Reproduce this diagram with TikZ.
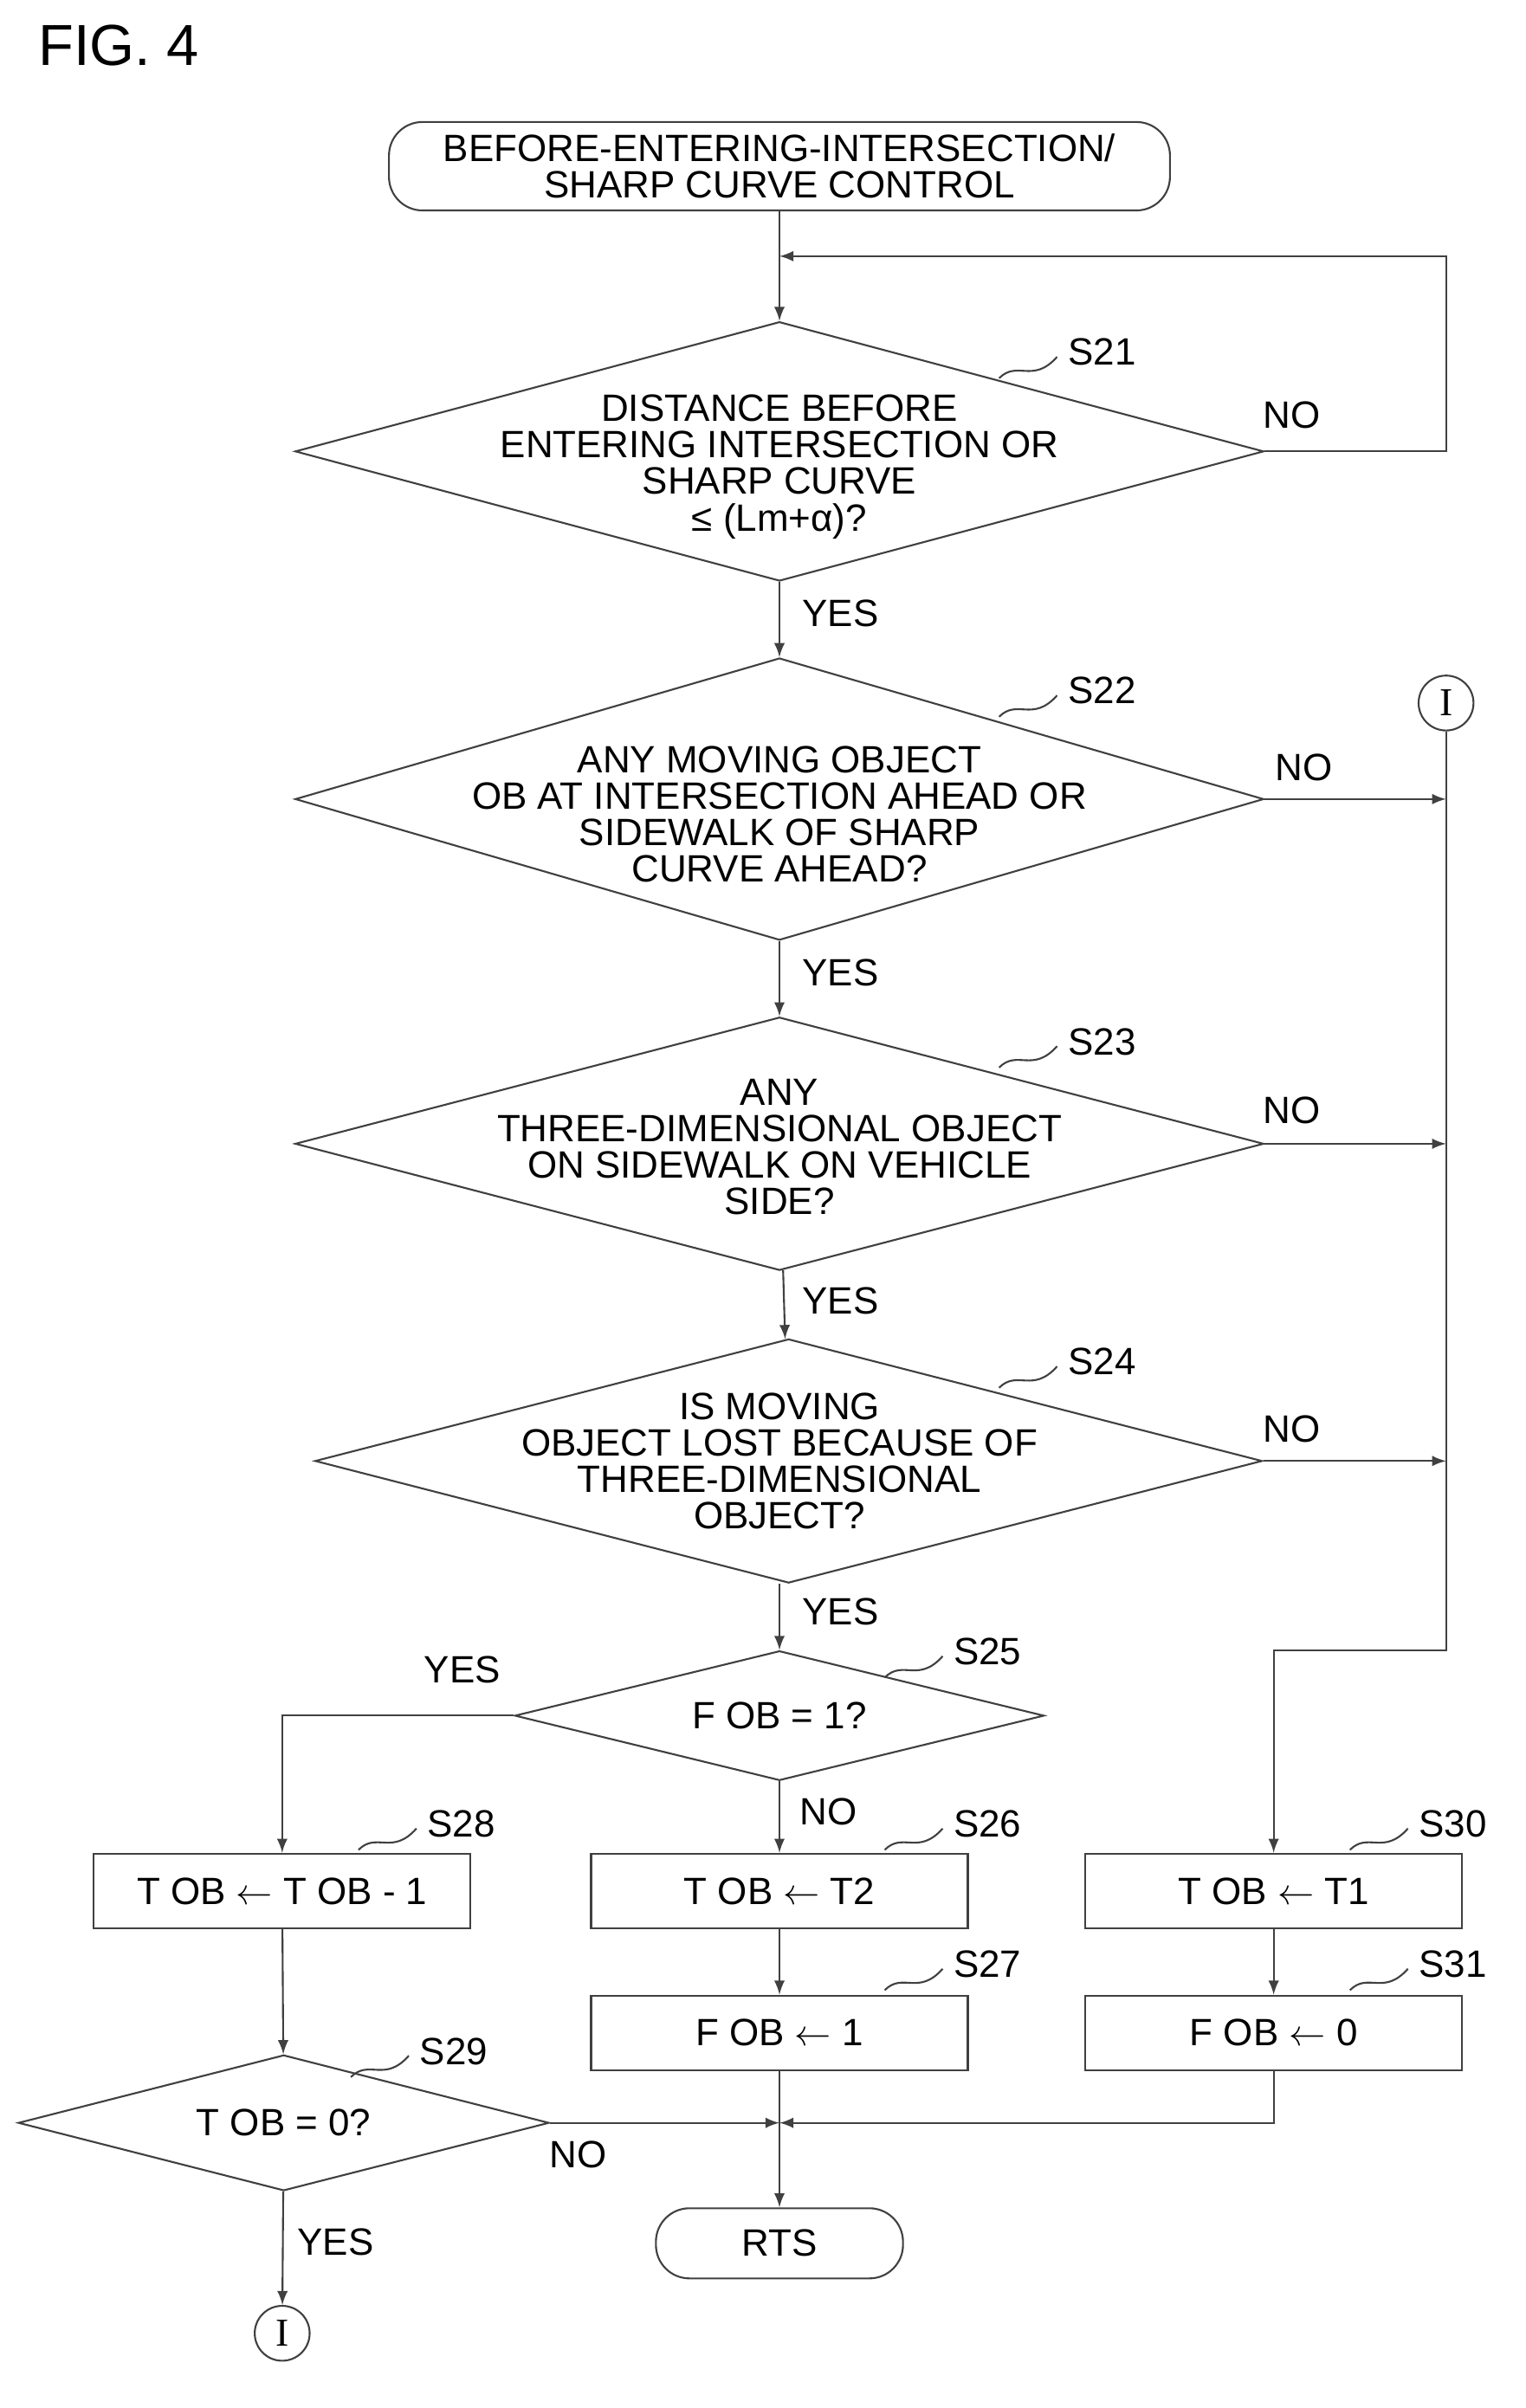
\documentclass[tikz,border=0pt]{standalone}
\usepackage{fontspec}
\setmainfont{Liberation Sans}
\newfontfamily\serifI{Liberation Serif}
\usetikzlibrary{shapes.geometric}
\usetikzlibrary{arrows}
\begin{document}
\begin{tikzpicture}[x=0.01761cm,y=-0.01761cm,
  font=\fontsize{12.5}{14}\selectfont,
  line width=0.6pt, draw=black!75,
  flow/.style={draw=black!75,-latex},
  dec/.style={diamond,draw=black!75,inner sep=0pt},
  proc/.style={rectangle,draw=black!75,minimum width=247*0.01761cm,minimum height=49*0.01761cm},
  term/.style={rectangle,rounded corners=22*0.01761cm,draw=black!75},
  txt/.style={align=center},
  conn/.style={circle,draw=black!75,minimum size=36*0.01761cm,inner sep=0pt,font=\serifI\fontsize{13}{14}\selectfont},
  steplbl/.style={anchor=west}]
\useasboundingbox (0,0) rectangle (1000,1579);
\node[anchor=west,font=\fontsize{19}{22}\selectfont] at (18,30) {FIG. 4};

% start
\node[term,minimum width=512*0.01761cm,minimum height=58*0.01761cm,align=center] (start) at (511,109)
  {BEFORE-ENTERING-INTERSECTION/\\[-2pt]SHARP CURVE CONTROL};

% decisions
\node[dec,minimum width=635*0.01761cm,minimum height=170*0.01761cm] (s21) at (511,296) {};
\node[txt] at (511,306) {DISTANCE BEFORE\\[-2pt]ENTERING INTERSECTION OR\\[-2pt]SHARP CURVE\\[-2pt]≤ (Lm+α)?};
\node[dec,minimum width=635*0.01761cm,minimum height=185*0.01761cm] (s22) at (511,524) {};
\node[txt] at (511,534) {ANY MOVING OBJECT\\[-2pt]OB AT INTERSECTION AHEAD OR\\[-2pt]SIDEWALK OF SHARP\\[-2pt]CURVE AHEAD?};
\node[dec,minimum width=635*0.01761cm,minimum height=166*0.01761cm] (s23) at (511,750) {};
\node[txt] at (511,752) {ANY\\[-2pt]THREE-DIMENSIONAL OBJECT\\[-2pt]ON SIDEWALK ON VEHICLE\\[-2pt]SIDE?};
\node[dec,minimum width=621*0.01761cm,minimum height=160*0.01761cm] (s24) at (517,958) {};
\node[txt] at (511,958) {IS MOVING\\[-2pt]OBJECT LOST BECAUSE OF\\[-2pt]THREE-DIMENSIONAL\\[-2pt]OBJECT?};
\node[dec,minimum width=347*0.01761cm,minimum height=85*0.01761cm] (s25) at (511,1125) {};
\node at (511,1125) {F OB = 1?};
\node[dec,minimum width=348*0.01761cm,minimum height=89*0.01761cm] (s29) at (186,1392) {};
\node at (186,1392) {T OB = 0?};

% processes
\node[proc] (s28) at (185,1240) {T OB $\leftarrow$ T OB - 1};
\node[proc] (s26) at (511,1240) {T OB $\leftarrow$ T2};
\node[proc] (s30) at (835,1240) {T OB $\leftarrow$ T1};
\node[proc] (s27) at (511,1333) {F OB $\leftarrow$ 1};
\node[proc] (s31) at (835,1333) {F OB $\leftarrow$ 0};
\node[term,minimum width=162*0.01761cm,minimum height=46*0.01761cm] (rts) at (511,1471) {RTS};

% connectors
\node[conn] (c1) at (948,461) {I};
\node[conn] (c2) at (185,1530) {I};
\coordinate (join) at (511,1392);
\coordinate (top) at (948,168);

% step labels
\foreach \n/\x/\y in {S21/655/248,S22/655/470,S23/655/700,S24/655/910,S25/580/1100,S28/235/1213,S26/580/1213,S30/885/1213,S27/580/1305,S31/885/1305,S29/230/1362}{
  \draw[black!75] (\x,\y) .. controls (\x+12,\y-12) and (\x+22,\y+4) .. (\x+38,\y-14);
  \node[steplbl] at (\x+38,\y-17) {\n};
}

% flow
\draw[flow] (start) -- (s21);
\draw[flow] (s21.east) -- (948,296) -- (top) -- (511,168);
\draw[flow] (s21) -- (s22);
\draw[flow] (s22) -- (s23);
\draw[flow] (s23) -- (s24);
\draw[flow] (s24.south -| s25) -- (s25);
\draw[flow] (s22.east) -- (948,524);
\draw[flow] (s23.east) -- (948,750);
\draw[flow] (s24.east) -- (948,958);
\draw[flow] (c1) -- (948,1082) -- (835,1082) -- (s30);
\draw[flow] (s25.west) -- (185,1125) -- (s28);
\draw[flow] (s25) -- (s26);
\draw[flow] (s26) -- (s27);
\draw[flow] (s30) -- (s31);
\draw[flow] (s28) -- (s29);
\draw[flow] (s29.east) -- (join);
\draw[flow] (s31.south) -- (835,1392) -- (join);
\draw[flow] (s27) -- (rts);
\draw[flow] (s29) -- (c2);

% branch labels
\node at (847,272) {NO};
\node at (855,503) {NO};
\node at (847,728) {NO};
\node at (847,937) {NO};
\node at (551,402) {YES};
\node at (551,638) {YES};
\node at (551,853) {YES};
\node at (551,1057) {YES};
\node at (303,1095) {YES};
\node at (543,1188) {NO};
\node at (379,1413) {NO};
\node at (220,1470) {YES};
\end{tikzpicture}
\end{document}
